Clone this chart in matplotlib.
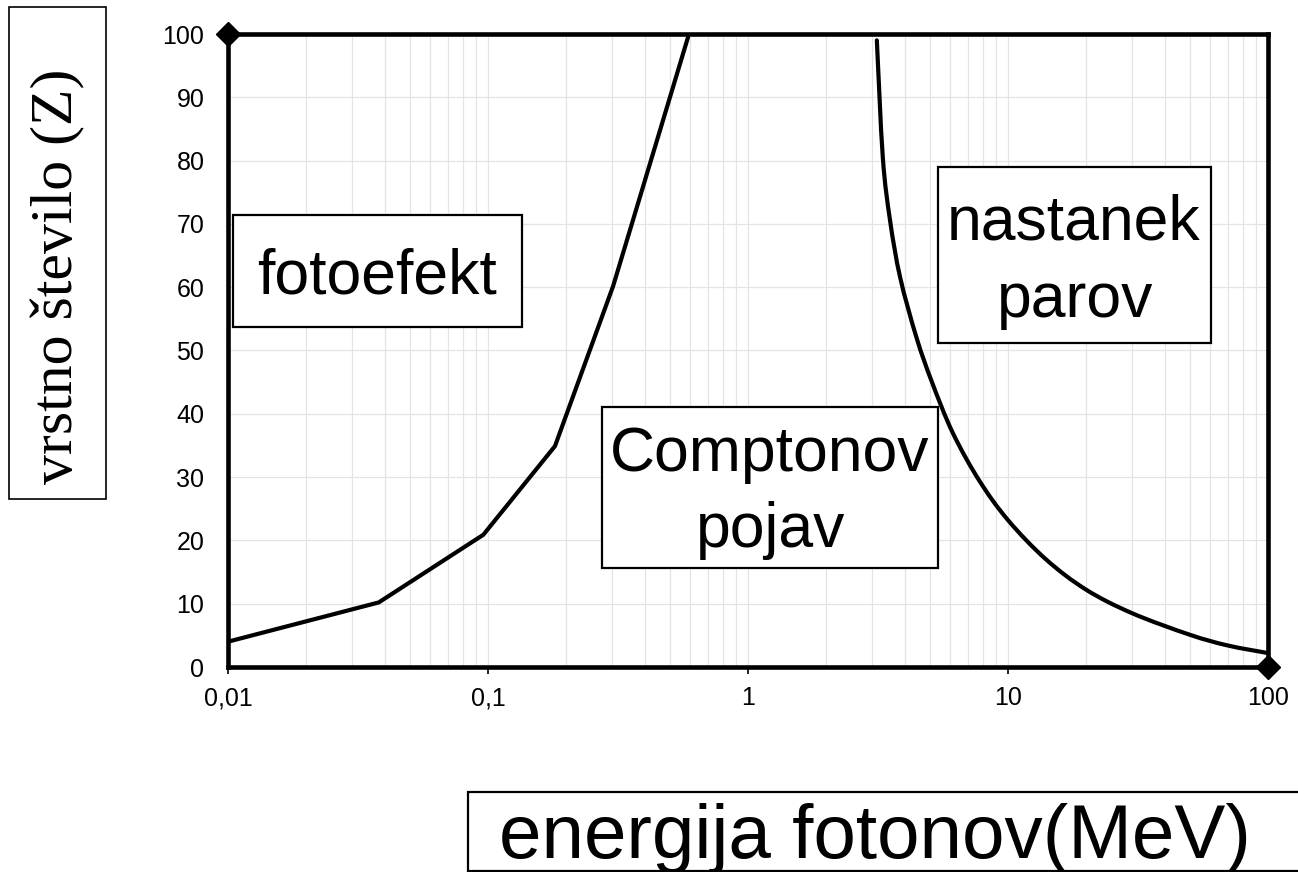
import matplotlib
matplotlib.use("Agg")
import matplotlib.pyplot as plt
import numpy as np
from matplotlib.patches import Rectangle, PathPatch
from matplotlib.path import Path
from matplotlib.ticker import FixedLocator, LogLocator, NullFormatter

# meja fotoefekt / Comptonov pojav
foto_E = [0.01, 0.038, 0.096, 0.181, 0.303, 0.588]
foto_Z = [4.0, 10.2, 20.9, 34.9, 60.2, 99.5]

# meja Comptonov pojav / nastanek parov (glajena crta)
par_E = [3.13, 3.30, 3.52, 3.85, 4.45, 5.10, 6.13, 7.74, 10.0, 14.0, 20.0, 30.0, 50.0, 70.0, 100.0]
par_Z = [99.0, 80.5, 70.5, 61.5, 52.0, 45.0, 37.0, 29.5, 23.2, 17.0, 12.2, 8.5, 5.1, 3.4, 2.2]

# oglisci (skrita serija)
kot_E = [0.01, 100]
kot_Z = [100, 0]

x_ticks = [0.01, 0.1, 1, 10, 100]
x_tick_labels = ["0,01", "0,1", "1", "10", "100"]
y_ticks = list(range(0, 101, 10))

W, H = 1298, 872
plt.rcParams['font.family'] = ['Liberation Sans', 'DejaVu Sans']
fig = plt.figure(figsize=(W / 100, H / 100), dpi=100)

# os v pikslih: levo 228, desno 1268, zgoraj 34, spodaj 667
ax = fig.add_axes([228 / W, 1 - 667 / H, (1268 - 228) / W, (667 - 34) / H])
ax.set_xscale('log')
ax.set_xlim(0.01, 100)
ax.set_ylim(0, 100)

ax.xaxis.set_major_locator(FixedLocator(x_ticks))
ax.set_xticklabels(x_tick_labels, fontsize=18)
ax.xaxis.set_minor_locator(LogLocator(base=10, subs=range(2, 10)))
ax.xaxis.set_minor_formatter(NullFormatter())
ax.set_yticks(y_ticks)
ax.set_yticklabels([str(v) for v in y_ticks], fontsize=18)

ax.grid(True, which='both', axis='x', color='#e4e4e4', linewidth=0.9)
ax.grid(True, which='major', axis='y', color='#e4e4e4', linewidth=0.9)
ax.set_axisbelow(True)

ax.tick_params(axis='x', which='major', direction='out', length=5, width=1.2, pad=9)
ax.tick_params(axis='x', which='minor', length=0)
ax.tick_params(axis='y', which='both', length=0, pad=17)

for s in ax.spines.values():
    s.set_linewidth(3.3)
    s.set_color('black')

ax.plot(foto_E, foto_Z, color='black', linewidth=3.0, solid_capstyle='round', solid_joinstyle='miter')


def smooth_path(xs, ys):
    # Catmull-Rom skozi tocke, v log-x prostoru, kot Bezierjevi odseki
    lx = np.log10(xs)
    p = np.column_stack([lx, ys])
    n = len(p)
    verts = [p[0]]
    codes = [Path.MOVETO]
    for i in range(n - 1):
        p0 = p[i - 1] if i > 0 else p[i]
        p1, p2 = p[i], p[i + 1]
        p3 = p[i + 2] if i + 2 < n else p[i + 1]
        c1 = p1 + (p2 - p0) / 6
        c2 = p2 - (p3 - p1) / 6
        verts += [c1, c2, p2]
        codes += [Path.CURVE4] * 3
    v = np.array(verts)
    v[:, 0] = 10 ** v[:, 0]
    return Path(v, codes)


ax.add_patch(PathPatch(smooth_path(par_E, par_Z), facecolor='none', edgecolor='black',
                       linewidth=3.0, capstyle='round'))
ax.plot(kot_E, kot_Z, linestyle='none', marker='D', markersize=12, color='black', clip_on=False, zorder=5)


def px_box(x0, y0, x1, y1, lw=1.6):
    # pravokotnik v pikslih (y od zgoraj navzdol)
    r = Rectangle((x0 / W, 1 - y1 / H), (x1 - x0) / W, (y1 - y0) / H,
                  transform=fig.transFigure, facecolor='white',
                  edgecolor='black', linewidth=lw, zorder=6)
    fig.add_artist(r)


def px_text(x, y, s, **kw):
    fig.text(x / W, 1 - y / H, s, zorder=7, **kw)


# napisi v okvirjih
px_box(233, 215, 522, 327)
px_text(377, 293, "fotoefekt", fontsize=45, ha='center', va='baseline')

px_box(602, 407, 938, 568)
px_text(770, 471, "Comptonov", fontsize=45, ha='center', va='baseline')
px_text(771, 547, "pojav", fontsize=45, ha='center', va='baseline')

px_box(938, 167, 1211, 343)
px_text(1074, 240, "nastanek", fontsize=45, ha='center', va='baseline')
px_text(1075, 317, "parov", fontsize=45, ha='center', va='baseline')

# naslova osi
px_box(9, 7, 106, 499, lw=1.2)
px_text(58, 276, "vrstno število (Z)", fontsize=43, rotation=90,
        ha='center', va='center', family=['Liberation Serif', 'DejaVu Serif'])

px_box(468, 792, 1320, 871, lw=1.6)
px_text(875, 858, "energija fotonov(MeV)", fontsize=55, ha='center', va='baseline')

fig.savefig("out.png", dpi=100, facecolor='white')
